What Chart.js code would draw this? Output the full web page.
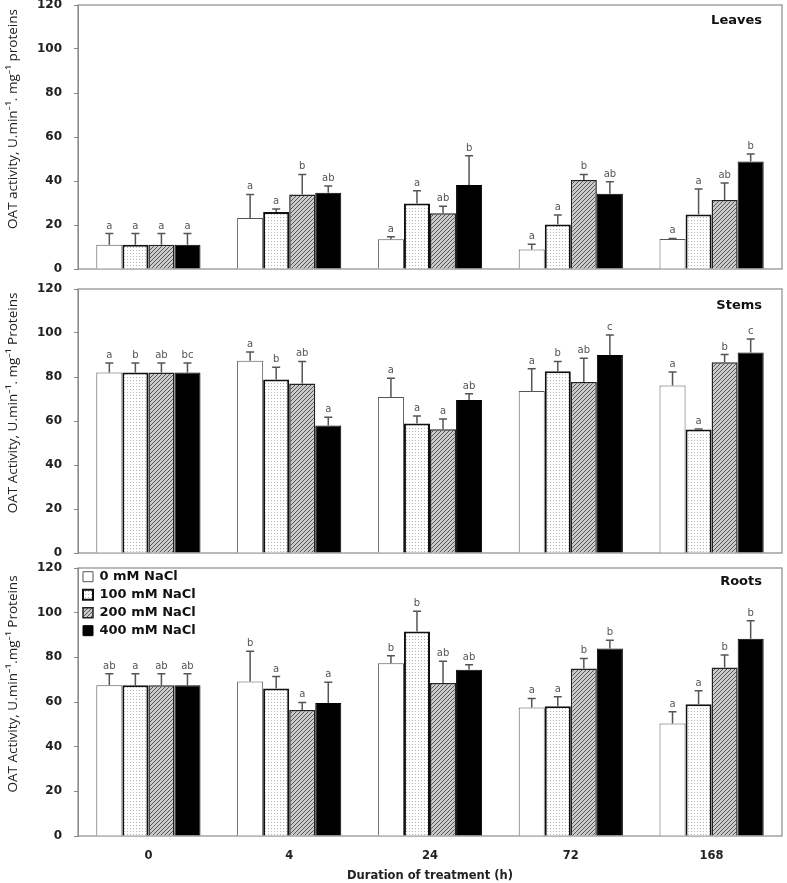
<!DOCTYPE html>
<html>
<head>
<meta charset="utf-8">
<script src="https://cdn.jsdelivr.net/npm/chart.js@4.4.1/dist/chart.umd.min.js"></script>
<style>
  html, body { margin: 0; padding: 0; background: #fff; }
  #wrap { position: relative; width: 787px; height: 883px; }
  .pane { position: absolute; left: 0; width: 787px; }
</style>
</head>
<body>
<div id="wrap">
  <div class="pane" style="top:0;height:280px"><canvas id="c1"></canvas></div>
  <div class="pane" style="top:280px;height:280px"><canvas id="c2"></canvas></div>
  <div class="pane" style="top:560px;height:323px"><canvas id="c3"></canvas></div>
</div>
<script>
// ---------- data ----------
const categories = ['0', '4', '24', '72', '168'];
const seriesNames = ['0 mM NaCl', '100 mM NaCl', '200 mM NaCl', '400 mM NaCl'];
const yTicks = [0, 20, 40, 60, 80, 100, 120];

// Leaves
const leaves0   = [11.0, 23.2, 13.5, 8.9, 13.6];
const leaves100 = [11.0, 25.9, 29.8, 20.2, 24.8];
const leaves200 = [11.0, 33.9, 25.3, 40.5, 31.4];
const leaves400 = [11.0, 34.7, 38.2, 34.2, 48.9];
const leavesErr0   = [5.1, 10.7, 1.2, 2.3, 0.3];
const leavesErr100 = [5.1, 1.4, 5.8, 4.3, 11.6];
const leavesErr200 = [5.1, 9.1, 3.2, 2.5, 7.7];
const leavesErr400 = [5.1, 3.0, 13.3, 5.5, 3.4];
const leavesLet0   = ['a', 'a', 'a', 'a', 'a'];
const leavesLet100 = ['a', 'a', 'a', 'a', 'a'];
const leavesLet200 = ['a', 'b', 'ab', 'b', 'ab'];
const leavesLet400 = ['a', 'ab', 'b', 'ab', 'b'];

// Stems
const stems0   = [82.1, 87.4, 70.9, 73.6, 76.1];
const stems100 = [82.1, 78.9, 58.9, 82.6, 56.1];
const stems200 = [82.1, 77.0, 56.2, 77.7, 86.7];
const stems400 = [82.1, 57.9, 69.5, 90.0, 91.1];
const stemsErr0   = [4.3, 4.0, 8.5, 10.2, 6.2];
const stemsErr100 = [4.3, 5.5, 3.4, 4.5, 0.3];
const stemsErr200 = [4.3, 10.1, 4.7, 10.8, 3.5];
const stemsErr400 = [4.3, 3.8, 2.9, 9.1, 6.2];
const stemsLet0   = ['a', 'a', 'a', 'a', 'a'];
const stemsLet100 = ['b', 'b', 'a', 'b', 'a'];
const stemsLet200 = ['ab', 'ab', 'a', 'ab', 'b'];
const stemsLet400 = ['bc', 'a', 'ab', 'c', 'c'];

// Roots
const roots0   = [67.5, 69.2, 77.4, 57.5, 50.4];
const roots100 = [67.5, 66.1, 91.6, 58.1, 59.0];
const roots200 = [67.5, 56.4, 68.5, 75.0, 75.5];
const roots400 = [67.5, 59.5, 74.4, 84.0, 88.3];
const rootsErr0   = [5.2, 13.5, 3.3, 4.1, 5.2];
const rootsErr100 = [5.2, 5.3, 9.0, 4.2, 6.0];
const rootsErr200 = [5.2, 3.4, 9.7, 4.5, 5.5];
const rootsErr400 = [5.2, 9.3, 2.3, 3.7, 8.1];
const rootsLet0   = ['ab', 'b', 'b', 'a', 'a'];
const rootsLet100 = ['a', 'a', 'b', 'a', 'a'];
const rootsLet200 = ['ab', 'a', 'ab', 'b', 'b'];
const rootsLet400 = ['ab', 'a', 'ab', 'b', 'b'];

// ---------- patterns ----------
function makeDots() {
  const c = document.createElement('canvas'); c.width = 3; c.height = 3;
  const g = c.getContext('2d');
  g.fillStyle = '#ffffff'; g.fillRect(0, 0, 3, 3);
  g.fillStyle = '#b4b4b4'; g.fillRect(1, 1, 1, 1);
  return g.createPattern(c, 'repeat');
}
function makeHatch() {
  const c = document.createElement('canvas'); c.width = 4; c.height = 4;
  const g = c.getContext('2d');
  g.fillStyle = '#cacaca'; g.fillRect(0, 0, 4, 4);
  g.fillStyle = '#555555';
  for (let i = 0; i < 4; i++) g.fillRect(i, 3 - i, 1, 1);
  return g.createPattern(c, 'repeat');
}
const dotPat = makeDots();
const hatchPat = makeHatch();

const styles = [
  { bg: '#ffffff', border: '#555555', bw: 1 },
  { bg: dotPat, border: '#111111', bw: 2 },
  { bg: hatchPat, border: '#222222', bw: 1.5 },
  { bg: '#000000', border: '#000000', bw: 1 }
];

// ---------- plugins ----------
const frame = {
  id: 'frame',
  beforeDatasetsDraw(chart) {
    const a = chart.chartArea, g = chart.ctx;
    g.save();
    g.strokeStyle = '#8a8a8a'; g.lineWidth = 1.2;
    g.strokeRect(a.left, a.top, a.right - a.left, a.bottom - a.top);
    g.restore();
  }
};

const errLetters = {
  id: 'errLetters',
  afterDatasetsDraw(chart) {
    const g = chart.ctx, ys = chart.scales.y;
    g.save();
    chart.data.datasets.forEach((ds, di) => {
      const meta = chart.getDatasetMeta(di);
      meta.data.forEach((el, i) => {
        const v = ds.data[i], e = ds.errs[i];
        const yb = ys.getPixelForValue(v), yt = ys.getPixelForValue(v + e);
        g.strokeStyle = '#555'; g.lineWidth = 1.5;
        g.beginPath();
        g.moveTo(el.x, yb); g.lineTo(el.x, yt);
        g.moveTo(el.x - 4, yt); g.lineTo(el.x + 4, yt);
        g.stroke();
        g.fillStyle = '#555';
        g.font = '10px "DejaVu Sans", sans-serif';
        g.textAlign = 'center'; g.textBaseline = 'alphabetic';
        g.fillText(ds.letters[i], el.x, yt - 5);
      });
    });
    g.restore();
  }
};

const panelText = {
  id: 'panelText',
  afterDraw(chart, args, opts) {
    const a = chart.chartArea, g = chart.ctx;
    g.save();
    g.fillStyle = '#111';
    g.font = 'bold 13px "DejaVu Sans", sans-serif';
    g.textAlign = 'right'; g.textBaseline = 'middle';
    g.fillText(opts.label, a.right - 20, a.top + opts.labelDy);
    g.translate(13, (a.top + a.bottom) / 2 - 18);
    g.rotate(-Math.PI / 2);
    g.font = '13.5px "Open Sans", "Noto Sans", "DejaVu Sans", sans-serif';
    g.fillStyle = '#222';
    g.textAlign = 'center'; g.textBaseline = 'middle';
    g.fillText(opts.yTitle, 0, 0);
    g.restore();
  }
};

function makePanel(id, means, errs, letters, label, labelDy, yTitle, isBottom, padTop, padBottom) {
  const datasets = seriesNames.map((n, k) => ({
    label: n,
    data: means[k],
    errs: errs[k],
    letters: letters[k],
    backgroundColor: styles[k].bg,
    borderColor: styles[k].border,
    borderWidth: styles[k].bw,
    categoryPercentage: 0.74,
    barPercentage: 1.0
  }));
  return new Chart(document.getElementById(id), {
    type: 'bar',
    data: { labels: categories, datasets },
    plugins: [frame, errLetters, panelText],
    options: {
      responsive: true,
      maintainAspectRatio: false,
      animation: false,
      layout: { autoPadding: false, padding: { top: padTop, bottom: padBottom, left: 0, right: 5 } },
      plugins: {
        tooltip: { enabled: false },
        panelText: { label, labelDy, yTitle },
        legend: isBottom ? {
          display: true,
          position: 'chartArea',
          align: 'start',
          title: { display: true, text: ' ', font: { size: 1 }, padding: { top: 0, bottom: 4 } },
          labels: {
            boxWidth: 10, boxHeight: 10, padding: 5,
            color: '#111',
            font: { family: '"DejaVu Sans", sans-serif', size: 13, weight: 'bold' }
          }
        } : { display: false }
      },
      scales: {
        x: {
          display: isBottom,
          grid: { display: false, drawTicks: false },
          border: { display: false },
          ticks: {
            padding: 13, color: '#222',
            font: { family: '"DejaVu Sans", sans-serif', size: 11.5, weight: 'bold' }
          },
          title: {
            display: isBottom, text: 'Duration of treatment (h)', color: '#222',
            padding: { top: 0, bottom: 0 },
            font: { family: '"DejaVu Sans", sans-serif', size: 11.5, weight: 'bold' }
          },
          afterFit(s) {
            if (isBottom) s.height = 47;
            s.paddingLeft = 0; s.paddingRight = 0;
          }
        },
        y: {
          min: 0, max: 120,
          afterBuildTicks(s) { s.ticks = yTicks.map(v => ({ value: v })); },
          grid: { display: true, drawOnChartArea: false, drawTicks: true, tickLength: 4, color: '#888' },
          border: { display: true, color: '#888' },
          ticks: {
            padding: 12, color: '#222',
            font: { family: '"DejaVu Sans", sans-serif', size: 12, weight: 'bold' }
          },
          afterFit(s) {
            s.width = 78;
            s.paddingTop = 0; s.paddingBottom = 0;
          }
        }
      }
    }
  });
}

makePanel('c1',
  [leaves0, leaves100, leaves200, leaves400],
  [leavesErr0, leavesErr100, leavesErr200, leavesErr400],
  [leavesLet0, leavesLet100, leavesLet200, leavesLet400],
  'Leaves', 16, 'OAT activity, U.min\u207B\u00B9. mg\u207B\u00B9 proteins', false, 5, 11);

makePanel('c2',
  [stems0, stems100, stems200, stems400],
  [stemsErr0, stemsErr100, stemsErr200, stemsErr400],
  [stemsLet0, stemsLet100, stemsLet200, stemsLet400],
  'Stems', 17, 'OAT Activity, U.min\u207B\u00B9. mg\u207B\u00B9 Proteins', false, 9, 7);

makePanel('c3',
  [roots0, roots100, roots200, roots400],
  [rootsErr0, rootsErr100, rootsErr200, rootsErr400],
  [rootsLet0, rootsLet100, rootsLet200, rootsLet400],
  'Roots', 14, 'OAT Activity, U.min\u207B\u00B9.mg\u207B\u00B9 Proteins', true, 8, 0);
</script>
</body>
</html>
